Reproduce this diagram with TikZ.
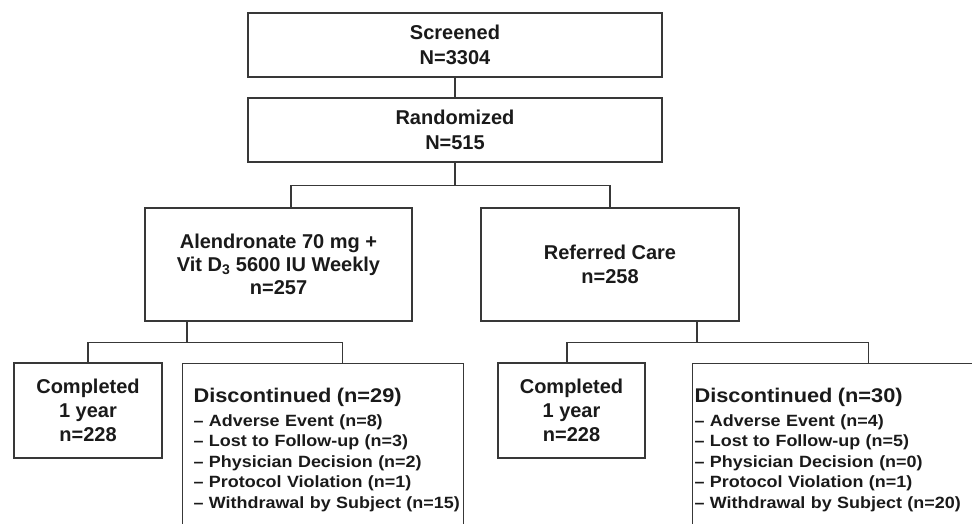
\documentclass[tikz,border=0pt]{standalone}
\usepackage{fontspec}
\setmainfont{Liberation Sans}
\newfontfamily\listfont[FakeStretch=1.1]{Liberation Sans}
\usepackage{xcolor}
\usepackage{tikz}
\definecolor{ink}{HTML}{1A1A1A}
\definecolor{rule}{HTML}{383838}
\tikzset{flow/.style={x=1pt,y=-1pt,line width=1.1pt,color=rule,line join=miter},
  box/.style={draw,align=center,text=ink,inner sep=0pt,font=\fontsize{20}{24}\selectfont\bfseries},
  listbox/.style={draw,align=left,text=ink,anchor=north west,inner ysep=25pt,font=\listfont\fontsize{16.3}{20.5}\selectfont\bfseries}}
\newcommand{\disc}[1]{{\fontsize{19.8}{20.5}\selectfont Discontinued (n=#1)}\\[3pt]}
\newcommand{\itm}[1]{\mbox{– #1}}

\begin{document}
\begin{tikzpicture}[flow]
  \clip(0,0)rectangle(972,524);
  \node[box,minimum width=414,minimum height=64,font=\fontsize{20}{25}\selectfont\bfseries](scr)at(455,45){Screened\\N=3304};
  \node[box,minimum width=414,minimum height=64,font=\fontsize{20}{25}\selectfont\bfseries](rand)at(455,130){Randomized\\N=515};
  \node[box,minimum width=267,minimum height=113,font=\fontsize{20}{23}\selectfont\bfseries](alen)at(278.5,264.5){Alendronate 70 mg +\\Vit D\textsubscript{3} 5600 IU Weekly\\n=257};
  \node[box,minimum width=258,minimum height=113,font=\fontsize{20}{23.5}\selectfont\bfseries](refc)at(610,264.5){Referred Care\\n=258};
  \node[box,minimum width=148,minimum height=95](comp1)at(88,410.5){Completed\\1 year\\n=228};
  \node[box,minimum width=147,minimum height=95](comp2)at(571.5,410.5){Completed\\1 year\\n=228};
  \node[listbox,inner xsep=11pt,text width=259pt](disc1)at(182,363){\disc{29}
    \itm{Adverse Event (n=8)}\\ \itm{Lost to Follow-up (n=3)}\\ \itm{Physician Decision (n=2)}\\
    \itm{Protocol Violation (n=1)}\\ \itm{Withdrawal by Subject (n=15)}};
  \node[listbox,inner xsep=2pt,text width=348pt](disc2)at(692,363){\disc{30}
    \itm{Adverse Event (n=4)}\\ \itm{Lost to Follow-up (n=5)}\\ \itm{Physician Decision (n=0)}\\
    \itm{Protocol Violation (n=1)}\\ \itm{Withdrawal by Subject (n=20)}};
  % tree lines
  \draw(scr)--(rand);
  \draw(rand.south)--++(0,23)coordinate(split1);
  \draw([xshift=12.5pt]alen.north)|-(split1)-|(refc.north);
  \draw([xshift=-91.5pt]alen.south)--++(0,21)coordinate(split2);
  \draw(comp1.north)|-(split2)-|([xshift=19.5pt]disc1.north);
  \draw([xshift=87pt]refc.south)--++(0,21)coordinate(split3);
  \draw([xshift=-4.5pt]comp2.north)|-(split3)-|(disc2.north);
\end{tikzpicture}
\end{document}
